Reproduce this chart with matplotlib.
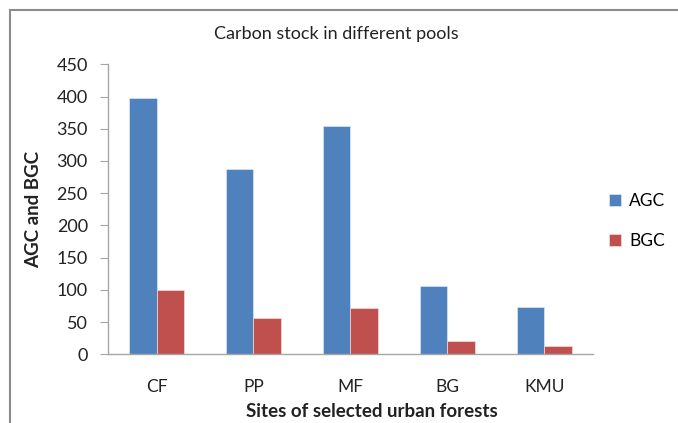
import numpy as np
import matplotlib
matplotlib.use('Agg')
import matplotlib.pyplot as plt
from matplotlib.patches import Rectangle

plt.rcParams['font.family'] = ['Lato', 'DejaVu Sans']

sites = ['CF', 'PP', 'MF', 'BG', 'KMU']
agc = [398, 287, 354, 106, 74]
bgc = [100, 56, 72, 21, 13]
yticks = [0, 50, 100, 150, 200, 250, 300, 350, 400, 450]

blue = '#4f81bd'
red = '#c0504d'
axis_grey = '#a6a6a6'
txt = '#222222'

fig = plt.figure(figsize=(6.78, 4.23), dpi=100)
ax = fig.add_axes([0.1593, 0.1624, 0.7153, 0.6856])

# chart frame like the excel export (only left and top edges visible)
fig.patches.append(Rectangle((10 / 678, -0.1), 1.2, 1 - 10 / 423 + 0.1, transform=fig.transFigure,
                             fill=False, edgecolor='#8c8c8c', linewidth=1.5))

x = np.arange(len(sites))
w = 0.286
ax.bar(x - w / 2, agc, w, color=blue, edgecolor='#dce6f2', linewidth=0.5, label='AGC')
ax.bar(x + w / 2, bgc, w, color=red, edgecolor='#f2dcdb', linewidth=0.5, label='BGC')

ax.set_xlim(-0.5, len(sites) - 0.5)
ax.set_ylim(0, 450)
ax.set_yticks(yticks)
ax.set_xticks(x)
ax.set_xticklabels(sites)

for s in ['top', 'right']:
    ax.spines[s].set_visible(False)
for s in ['left', 'bottom']:
    ax.spines[s].set_color(axis_grey)
    ax.spines[s].set_linewidth(1)
ax.tick_params(axis='y', length=5.5, color=axis_grey, labelsize=13, pad=9, labelcolor=txt)
ax.tick_params(axis='x', length=0, labelsize=12.5, pad=17.5, labelcolor=txt)

ax.set_title('Carbon stock in different pools', fontsize=13, pad=18, color=txt, x=0.47)
ax.set_ylabel('AGC and BGC', fontsize=13.5, fontweight='bold', labelpad=10, color=txt)
ax.set_xlabel('Sites of selected urban forests', fontsize=13.5, fontweight='bold', labelpad=6, color=txt, x=0.544)

ax.legend(loc='center left', bbox_to_anchor=(1.0, 0.46), frameon=False, fontsize=12.5,
          handlelength=0.7, handleheight=0.7, labelspacing=1.4, handletextpad=0.5)

fig.savefig('out.png', dpi=100, facecolor='white')
